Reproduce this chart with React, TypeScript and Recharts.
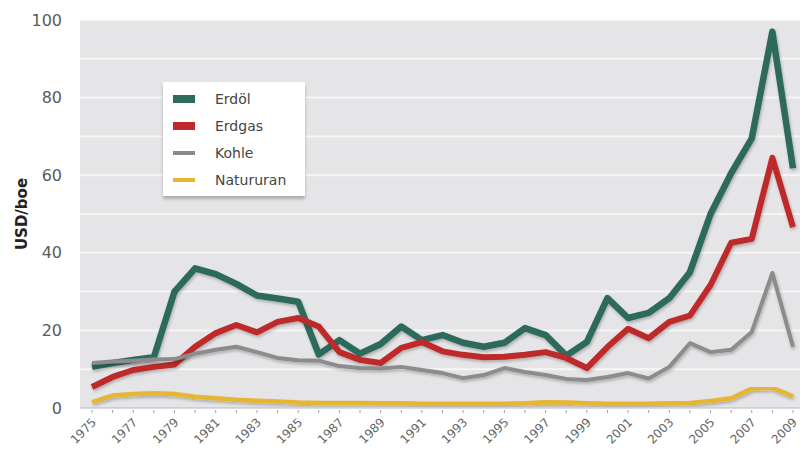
import React from "react";
import {
  LineChart, Line, XAxis, YAxis, CartesianGrid, ReferenceLine,
} from "recharts";

const years = [
  1975, 1976, 1977, 1978, 1979, 1980, 1981, 1982, 1983, 1984, 1985, 1986,
  1987, 1988, 1989, 1990, 1991, 1992, 1993, 1994, 1995, 1996, 1997, 1998,
  1999, 2000, 2001, 2002, 2003, 2004, 2005, 2006, 2007, 2008, 2009,
];

const erdoel = [
  10.6, 11.6, 12.4, 13.1, 30, 36, 34.5, 32, 29, 28.2, 27.4, 13.8,
  17.5, 14, 16.5, 21, 17.5, 18.8, 16.8, 15.8, 16.8, 20.6, 18.8, 13.5,
  17, 28.3, 23.2, 24.5, 28.3, 35, 50, 60.5, 69.5, 97, 61.8,
];
const erdgas = [
  5.4, 8, 9.8, 10.6, 11.2, 15.8, 19.3, 21.4, 19.5, 22.2, 23.2, 21,
  14.4, 12.4, 11.6, 15.5, 17, 14.6, 13.7, 13.1, 13.2, 13.7, 14.4, 12.9,
  10.3, 15.7, 20.4, 18, 22.2, 23.8, 31.7, 42.6, 43.6, 64.5, 46.6,
];
const kohle = [
  11.6, 12, 12.2, 12.5, 12.6, 14, 15, 15.8, 14.4, 12.9, 12.3, 12.2,
  10.8, 10.3, 10.2, 10.6, 9.8, 9, 7.7, 8.5, 10.3, 9.3, 8.5, 7.5,
  7.2, 8, 9, 7.6, 10.6, 16.7, 14.4, 15, 19.6, 34.8, 15.8,
];
const natururan = [
  1.5, 3.2, 3.6, 3.8, 3.6, 2.9, 2.5, 2.1, 1.9, 1.7, 1.4, 1.3,
  1.3, 1.3, 1.2, 1.2, 1.1, 1.1, 1.1, 1.1, 1.1, 1.2, 1.5, 1.4,
  1.2, 1.1, 1.1, 1.1, 1.2, 1.3, 1.8, 2.5, 5, 5.2, 3,
];

const yTicks = [0, 20, 40, 60, 80, 100];
const gridValues = [10, 20, 30, 40, 50, 60, 70, 80, 90, 100];

const series = [
  { key: "erdoel", name: "Erdöl", color: "#2d6b5b", width: 6.5, swatch: 8 },
  { key: "erdgas", name: "Erdgas", color: "#be2a2c", width: 6, swatch: 8 },
  { key: "kohle", name: "Kohle", color: "#8c8c8c", width: 4, swatch: 4 },
  { key: "natururan", name: "Natururan", color: "#e6b631", width: 4.5, swatch: 4 },
];

const data = years.map((y, i) => ({
  year: y,
  erdoel: erdoel[i],
  erdgas: erdgas[i],
  kohle: kohle[i],
  natururan: natururan[i],
}));

const font = "'DejaVu Sans', Verdana, sans-serif";

function YearTick(props: any) {
  const { x, y, payload } = props;
  const show = payload.value % 2 === 1;
  return (
    <g>
      <line x1={x} x2={x} y1={y - 6} y2={y - 3} stroke="#9aa0aa" strokeWidth={1} />
      {show && (
        <text
          x={x + 5}
          y={y + 7}
          transform={`rotate(-45 ${x + 5} ${y + 7})`}
          textAnchor="end"
          fontSize={12}
          fill="#666"
          fontFamily={font}
        >
          {payload.value}
        </text>
      )}
    </g>
  );
}

function LegendBox() {
  return (
    <div
      style={{
        position: "absolute",
        left: 163,
        top: 82,
        background: "#fff",
        width: 142,
        padding: "3px 0 3px 0",
        boxShadow: "0 3px 3px rgba(0,0,0,0.25)",
        fontFamily: font,
      }}
    >
      {series.map((s) => (
        <div key={s.key} style={{ display: "flex", alignItems: "center", height: 27 }}>
          <div
            style={{
              width: 22,
              height: s.swatch,
              background: s.color,
              marginLeft: 10,
              marginRight: 20,
            }}
          />
          <span style={{ fontSize: 14, color: "#444" }}>{s.name}</span>
        </div>
      ))}
    </div>
  );
}

export default function App() {
  return (
    <div style={{ position: "absolute", left: 0, top: 0, width: 800, height: 454, background: "#fff" }}>
      <LineChart width={800} height={454} data={data} margin={{ top: 20, right: 0, left: 0, bottom: 0 }}>
        <defs>
          <filter id="lineShadow" x="-5%" y="-5%" width="110%" height="120%">
            <feDropShadow dx="1" dy="2" stdDeviation="1.5" floodColor="#000" floodOpacity="0.25" />
          </filter>
        </defs>
        <CartesianGrid fill="#e5e5e8" stroke="none" horizontal={false} vertical={false} />
        {gridValues.map((v) => (
          <ReferenceLine key={v} y={v} stroke="#f6f6f7" strokeWidth={2} />
        ))}
        <XAxis
          dataKey="year"
          interval={0}
          height={46}
          padding={{ left: 12, right: 7 }}
          tick={<YearTick />}
          tickLine={false}
          axisLine={{ stroke: "#b4b8c2" }}
        />
        <YAxis
          domain={[0, 100]}
          ticks={yTicks}
          width={80}
          axisLine={false}
          tickLine={false}
          tickMargin={12}
          tick={{ fill: "#5a5a5a", fontSize: 16, fontFamily: font }}
          label={{
            value: "USD/boe",
            angle: -90,
            position: "insideLeft",
            offset: 22,
            style: { fontWeight: "bold", fontSize: 15, fill: "#222", fontFamily: font, textAnchor: "middle" },
          }}
        />
        {series.map((s) => (
          <Line
            key={s.key}
            type="linear"
            dataKey={s.key}
            name={s.name}
            stroke={s.color}
            strokeWidth={s.width}
            dot={false}
            filter="url(#lineShadow)"
            strokeLinejoin="round"
            isAnimationActive={false}
          />
        ))}
      </LineChart>
      <LegendBox />
    </div>
  );
}
